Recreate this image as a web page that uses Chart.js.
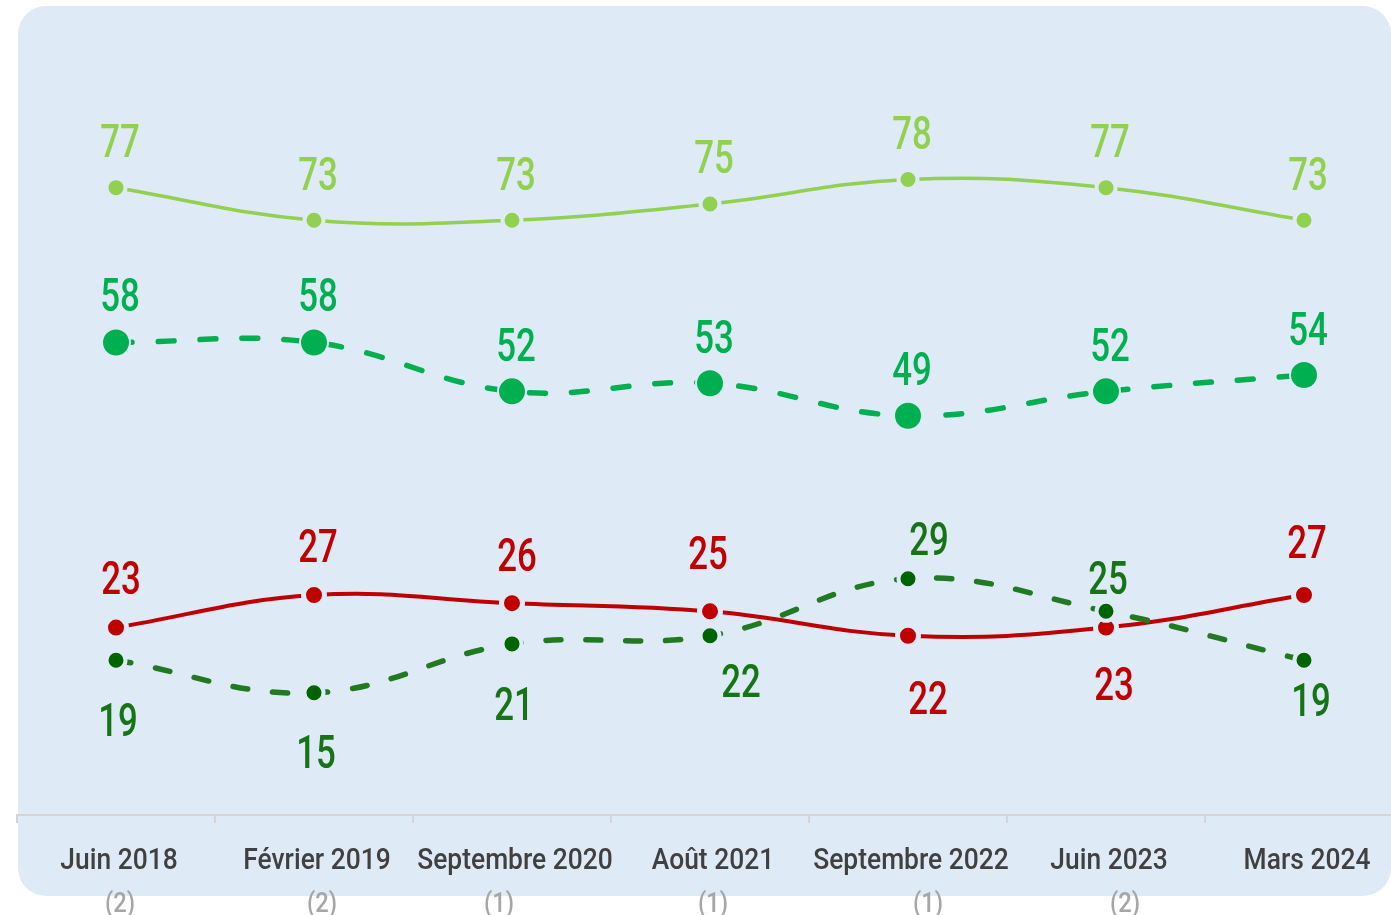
<!DOCTYPE html>
<html>
<head>
<meta charset="utf-8">
<script src="https://cdn.jsdelivr.net/npm/chart.js@4/dist/chart.umd.min.js"></script>
<style>
  html, body { margin: 0; padding: 0; background: #fff; overflow: hidden; }
  #wrap { position: relative; width: 1391px; height: 915px; overflow: hidden; }
  #panel { position: absolute; left: 18px; top: 6px; width: 1373px; height: 890px;
           background: #DEEAF6; border-radius: 28px; }
  #chart { position: absolute; left: 0; top: 0; }
</style>
</head>
<body>
<div id="wrap">
  <div id="panel"></div>
  <canvas id="chart" width="1403" height="915"></canvas>
</div>
<script>
// Chart data
const categories = ["Juin 2018", "Février 2019", "Septembre 2020", "Août 2021", "Septembre 2022", "Juin 2023", "Mars 2024"];
const subLabels = ["(2)", "(2)", "(1)", "(1)", "(1)", "(2)", ""];
const lightGreen = [77, 73, 73, 75, 78, 77, 73];
const green = [58, 58, 52, 53, 49, 52, 54];
const darkGreen = [19, 15, 21, 22, 29, 25, 19];
const red = [23, 27, 26, 25, 22, 23, 27];

// label placement (dx, dy from the point to the text centre)
const OFFSETS = {
  lightGreen: [[4,-47],[4,-47],[4,-47],[4,-47],[4,-47],[4,-47],[4,-47]],
  green:      [[4,-48],[4,-48],[4,-47],[4,-47],[4,-47],[4,-47],[4,-47]],
  darkGreen:  [[2,59],[2,59],[2,60],[31,45],[21,-40],[2,-34],[7,39]],
  red:        [[5,-50],[4,-50],[5,-49],[-2,-59],[20,62],[8,56],[3,-54]]
};
const SUB_DX = [4, 8, -13, 3, 20, 19, 0];

const PANEL = "#DEEAF6";

const labelPlugin = {
  id: "valueLabels",
  afterDatasetsDraw(chart) {
    const ctx = chart.ctx;
    chart.data.datasets.forEach((ds, i) => {
      const meta = chart.getDatasetMeta(i);
      meta.data.forEach((pt, j) => {
        const [dx, dy] = OFFSETS[ds.key][j];
        ctx.save();
        ctx.translate(pt.x + dx, pt.y + dy);
        ctx.scale(0.74, 1);
        ctx.font = "500 47px Roboto";
        ctx.fillStyle = ds.labelColor;
        ctx.textAlign = "center";
        ctx.textBaseline = "alphabetic";
        ctx.fillText(String(ds.data[j]), 0, 16.5);
        ctx.restore();
      });
    });

    // x axis labels
    const xs = chart.scales.x;
    categories.forEach((c, j) => {
      const x = xs.getPixelForValue(j);
      ctx.save();
      ctx.translate(x + 3, 869);
      ctx.scale(0.88, 1);
      ctx.font = "500 30px Roboto";
      ctx.fillStyle = "#404040";
      ctx.textAlign = "center";
      ctx.fillText(c, 0, 0);
      ctx.restore();
      if (subLabels[j]) {
        ctx.save();
        ctx.translate(x + SUB_DX[j], 912);
        ctx.scale(0.85, 1);
        ctx.font = "500 28px Roboto";
        ctx.fillStyle = "#A6A6A6";
        ctx.textAlign = "center";
        ctx.fillText(subLabels[j], 0, 0);
        ctx.restore();
      }
    });
  }
};

function series(key, data, color, dotColor, labelColor, width, radius, bw, dash) {
  return {
    key, data, labelColor,
    borderColor: color,
    borderWidth: width,
    borderDash: dash || [],
    borderCapStyle: "round",
    tension: 0.4,
    fill: false,
    pointRadius: radius,
    pointHoverRadius: radius,
    pointBackgroundColor: dotColor,
    pointBorderColor: PANEL,
    pointBorderWidth: bw
  };
}

new Chart(document.getElementById("chart").getContext("2d"), {
  type: "line",
  data: {
    labels: categories,
    datasets: [
      series("lightGreen", lightGreen, "#92D050", "#92D050", "#92D050", 3.5, 9.5, 4),
      series("green", green, "#00B050", "#00B050", "#00B050", 5.5, 14, 2, [16, 26]),
      series("darkGreen", darkGreen, "#217A21", "#006400", "#167316", 5.5, 9.5, 4, [15, 25]),
      series("red", red, "#C00000", "#C00000", "#C00000", 4, 10.5, 5)
    ]
  },
  options: {
    responsive: false,
    animation: false,
    layout: { autoPadding: false, padding: { left: 17, right: 0, top: 41, bottom: 0 } },
    plugins: { legend: { display: false }, tooltip: { enabled: false } },
    scales: {
      x: {
        offset: true,
        afterFit: s => { s.height = 100; },
        grid: { offset: true, drawOnChartArea: false, tickLength: 8, color: "#D4D4D4", lineWidth: 2 },
        border: { display: true, color: "#D4D4D4", width: 2 },
        ticks: { display: false }
      },
      y: { display: false, min: 0, max: 95 }
    }
  },
  plugins: [labelPlugin]
});
</script>
</body>
</html>
